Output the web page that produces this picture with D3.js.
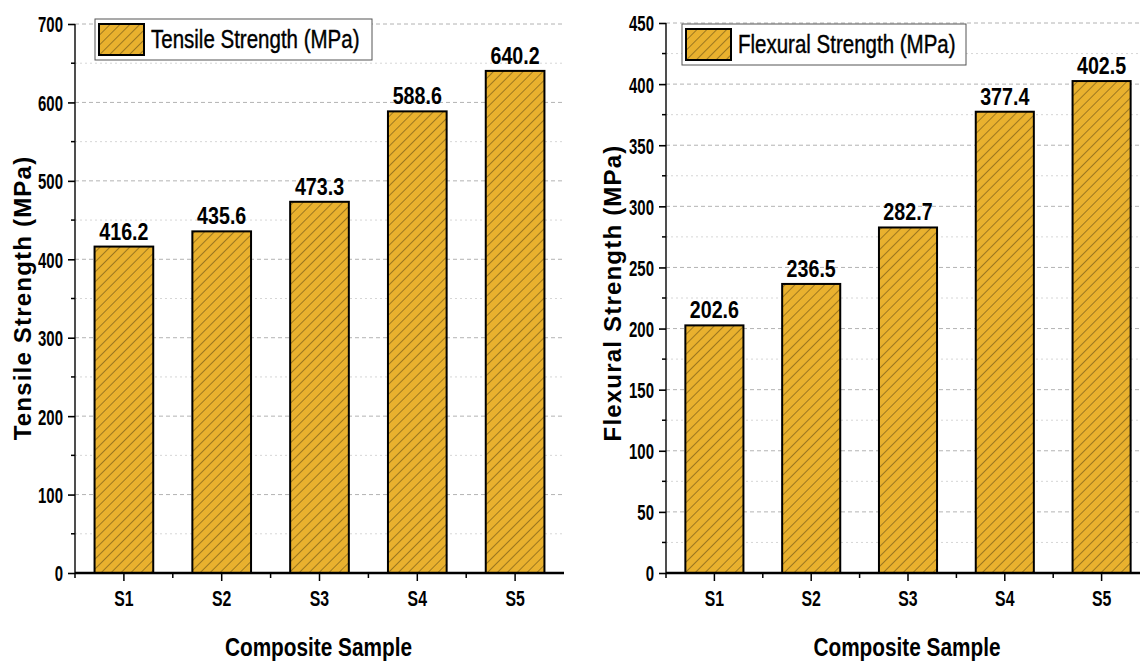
<!DOCTYPE html>
<html>
<head>
<meta charset="utf-8">
<script src="https://cdn.jsdelivr.net/npm/d3@7"></script>
<style>
  body { margin: 0; background: #fff; }
  text { font-family: "Liberation Sans", Arial, sans-serif; }
</style>
</head>
<body>
<script>
// chart data
var samples = ["S1", "S2", "S3", "S4", "S5"];
var tensile = [416.2, 435.6, 473.3, 588.6, 640.2];
var flexural = [202.6, 236.5, 282.7, 377.4, 402.5];
var tensileTicks = [0, 100, 200, 300, 400, 500, 600, 700];
var flexuralTicks = [0, 50, 100, 150, 200, 250, 300, 350, 400, 450];

// squeeze text horizontally round its own x (no narrow font installed)
function squeeze(sel, sx){
    sel.attr("transform", function(){
        var x0 = +this.getAttribute("x") || 0;
        return "translate(" + (x0 * (1 - sx)) + ",0) scale(" + sx + ",1)";
    });
}

window.onload = function(){
    var width = 1140, height = 661;

    var svg = d3.select("body")
        .append("svg")
        .attr("width", width)
        .attr("height", height);

    // hatch pattern for bars
    var defs = svg.append("defs");
    var pat = defs.append("pattern")
        .attr("id", "hatch")
        .attr("patternUnits", "userSpaceOnUse")
        .attr("width", 7).attr("height", 7)
        .attr("patternTransform", "rotate(45)");
    pat.append("rect").attr("width", 7).attr("height", 7).attr("fill", "#E9B12E");
    pat.append("line")
        .attr("x1", 0).attr("y1", 0).attr("x2", 0).attr("y2", 7)
        .attr("stroke", "#3d300c").attr("stroke-width", 0.9);

    // one panel
    function drawPanel(opt){
        var g = svg.append("g");
        var x = d3.scaleBand().domain(samples).range([opt.x0, opt.x1]);
        var y = d3.scaleLinear().domain([0, opt.max]).range([opt.y0, opt.y1]);
        var step = opt.ticks[1] - opt.ticks[0];
        var minor = d3.range(step / 2, opt.max, step);

        // grid
        g.selectAll(".gmaj").data(opt.ticks.slice(1)).enter().append("line")
            .attr("x1", opt.x0).attr("x2", opt.x1)
            .attr("y1", function(d){ return y(d); }).attr("y2", function(d){ return y(d); })
            .attr("stroke", "#a0a0a0").attr("stroke-width", 0.8).attr("stroke-dasharray", "4,3");
        g.selectAll(".gmin").data(minor).enter().append("line")
            .attr("x1", opt.x0).attr("x2", opt.x1)
            .attr("y1", function(d){ return y(d); }).attr("y2", function(d){ return y(d); })
            .attr("stroke", "#cccccc").attr("stroke-width", 0.8).attr("stroke-dasharray", "2,3");

        // bars
        var bw = x.bandwidth() * 0.6;
        g.selectAll(".bar").data(opt.values).enter().append("rect")
            .attr("x", function(d, i){ return x(samples[i]) + (x.bandwidth() - bw) / 2; })
            .attr("y", function(d){ return y(d); })
            .attr("width", bw)
            .attr("height", function(d){ return y(0) - y(d); })
            .attr("fill", "url(#hatch)")
            .attr("stroke", "#000").attr("stroke-width", 2);

        // value labels
        var vals = g.selectAll(".val").data(opt.values).enter().append("text")
            .attr("x", function(d, i){ return x(samples[i]) + x.bandwidth() / 2; })
            .attr("y", function(d){ return y(d) - 7; })
            .attr("text-anchor", "middle")
            .attr("font-size", 24).attr("font-weight", "bold")
            .text(function(d){ return d.toFixed(1); });
        squeeze(vals, 0.82);

        // y axis
        var yAxis = d3.axisLeft(y).tickValues(opt.ticks).tickSize(7).tickPadding(5);
        var ya = g.append("g").attr("transform", "translate(" + opt.x0 + ",0)").call(yAxis);
        ya.select(".domain").attr("stroke", "#222").attr("stroke-width", 1.6).attr("d", "M0," + opt.y0 + "V" + opt.y1);
        ya.selectAll(".tick line").attr("stroke-width", 1.6);
        var yt = ya.selectAll("text").attr("font-size", 22).attr("font-weight", "bold").attr("fill", "#000")
            .attr("dy", "0.36em");
        squeeze(yt, 0.68);
        g.selectAll(".ymin").data(minor).enter().append("line")
            .attr("x1", opt.x0 - 4).attr("x2", opt.x0)
            .attr("y1", function(d){ return y(d); }).attr("y2", function(d){ return y(d); })
            .attr("stroke", "#000").attr("stroke-width", 1.5);

        // x axis
        var xAxis = d3.axisBottom(x).tickSize(8).tickPadding(9);
        var xa = g.append("g").attr("transform", "translate(0," + opt.y0 + ")").call(xAxis);
        xa.select(".domain").attr("stroke-width", 2.6).attr("d", "M" + opt.x0 + ",0H" + opt.x1);
        xa.selectAll(".tick line").attr("stroke-width", 1.5);
        var xt = xa.selectAll("text").attr("font-size", 22).attr("font-weight", "bold").attr("fill", "#000");
        squeeze(xt, 0.72);
        g.selectAll(".xmin").data(samples).enter().append("line")
            .attr("x1", function(d){ return x(d); }).attr("x2", function(d){ return x(d); })
            .attr("y1", opt.y0).attr("y2", opt.y0 + 5)
            .attr("stroke", "#000").attr("stroke-width", 1.5);

        // axis titles
        var xt2 = g.append("text")
            .attr("x", (opt.x0 + opt.x1) / 2 - 1).attr("y", opt.y0 + 83)
            .attr("text-anchor", "middle")
            .attr("font-size", 26).attr("font-weight", "bold")
            .text("Composite Sample");
        squeeze(xt2, 0.8);
        g.append("text")
            .attr("transform", "translate(" + opt.titleX + "," + opt.titleY + ") rotate(-90)")
            .attr("text-anchor", "middle")
            .attr("font-size", 24).attr("font-weight", "bold")
            .attr("letter-spacing", 1.2)
            .text(opt.yTitle);

        // legend
        var lg = g.append("g").attr("transform", "translate(" + opt.legX + "," + opt.legY + ")");
        lg.append("rect").attr("width", opt.legW).attr("height", 41)
            .attr("fill", "#fff").attr("stroke", "#555").attr("stroke-width", 1);
        lg.append("rect").attr("x", 4).attr("y", 5).attr("width", 45).attr("height", 31)
            .attr("fill", "url(#hatch)").attr("stroke", "#000").attr("stroke-width", 2);
        var lt = lg.append("text").attr("x", 56).attr("y", 29)
            .attr("font-size", 25)
            .attr("stroke", "#000").attr("stroke-width", 0.4)
            .text(opt.legText);
        squeeze(lt, 0.82);
    }

    drawPanel({
        values: tensile, ticks: tensileTicks, max: 700,
        x0: 75, x1: 564, y0: 573, y1: 24,
        titleX: 31, titleY: 298, yTitle: "Tensile Strength (MPa)",
        legX: 95, legY: 19, legW: 277, legText: "Tensile Strength (MPa)"
    });
    drawPanel({
        values: flexural, ticks: flexuralTicks, max: 450,
        x0: 666, x1: 1150, y0: 573, y1: 23,
        titleX: 621, titleY: 293, yTitle: "Flexural Strength (MPa)",
        legX: 682, legY: 24, legW: 284, legText: "Flexural Strength (MPa)"
    });
};
</script>
</body>
</html>
